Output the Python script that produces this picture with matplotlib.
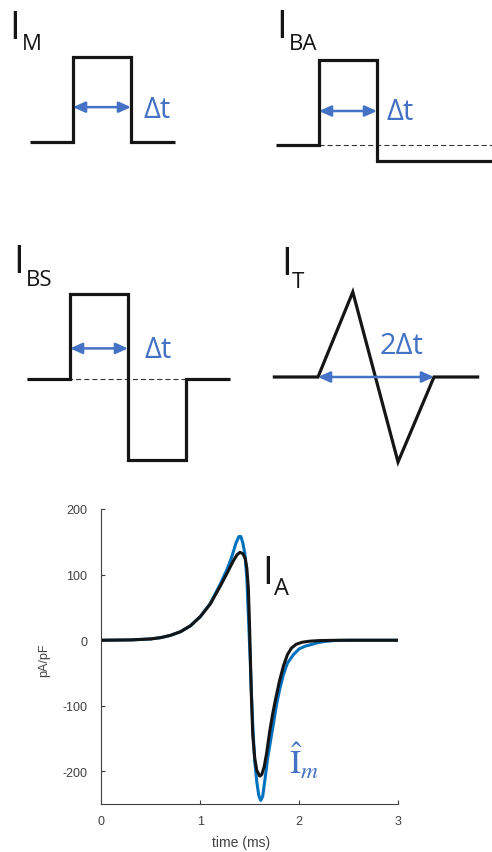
import matplotlib
matplotlib.use("Agg")
import matplotlib.pyplot as plt

plt.rcParams["axes.unicode_minus"] = False

# --------------------------------------------------------------------------- #
# Schematic waveforms (time in units of Δt, amplitude in units of the pulse)
# --------------------------------------------------------------------------- #
im_t = [-0.75, 0, 0, 1, 1, 1.75]
im_a = [0, 0, 1, 1, 0, 0]

iba_t = [-0.75, 0, 0, 1, 1, 3.2]
iba_a = [0, 0, 1, 1, -0.19, -0.19]

ibs_t = [-0.75, 0, 0, 1, 1, 2, 2, 2.75]
ibs_a = [0, 0, 1, 1, -0.95, -0.95, 0, 0]

it_t = [-0.78, 0, 0.6, 1.38, 2, 2.78]
it_a = [0, 0, 1, -1, 0, 0]

# --------------------------------------------------------------------------- #
# Bottom panel: fitted current I_A (black) vs measured Î_m (blue), pA/pF
# --------------------------------------------------------------------------- #
black_t = [0.0, 0.3, 0.5, 0.6, 0.7, 0.8, 0.9, 1.0, 1.1, 1.2, 1.27, 1.33, 1.37,
           1.40, 1.43, 1.455, 1.47, 1.485, 1.495, 1.505, 1.515, 1.53, 1.55,
           1.57, 1.60, 1.62, 1.645, 1.67, 1.70, 1.73, 1.76, 1.80, 1.84, 1.88,
           1.92, 1.97, 2.03, 2.1, 2.2, 2.4, 3.0]
black_v = [0, 0.5, 2, 4, 7.5, 13, 22, 36, 55, 82, 102, 120, 130,
           134, 132, 124, 110, 80, 35, -20, -80, -145, -180,
           -198, -207, -205, -193, -172, -140, -113, -90, -62, -39, -22,
           -12, -6, -3, -1.5, -0.5, 0, 0]

blue_t = [0.0, 0.3, 0.5, 0.6, 0.7, 0.8, 0.9, 1.0, 1.1, 1.2, 1.27, 1.32, 1.36,
          1.39, 1.41, 1.43, 1.45, 1.47, 1.485, 1.50, 1.515, 1.53, 1.55, 1.57,
          1.59, 1.61, 1.63, 1.655, 1.68, 1.72, 1.75, 1.77, 1.80, 1.84, 1.88,
          1.94, 2.0, 2.06, 2.11, 2.18, 2.25, 2.35, 2.5, 3.0]
blue_v = [0, 0.5, 2, 4, 7.5, 13, 22, 36, 56, 85, 108, 128, 148,
          158, 158, 148, 132, 95, 40, -15, -75, -130, -185, -215,
          -236, -244, -238, -210, -180, -144, -117, -98, -76, -52, -35,
          -22, -13, -9, -7, -4, -2, -0.5, 0, 0]

x_ticks = [0, 1, 2, 3]
y_ticks = [-200, -100, 0, 100, 200]

BLUE_TXT = "#4472C4"
BLUE_LINE = "#0072BD"
INK = "#151515"
GREY = "#404040"

W, H = 492, 853
SX, SY = 58, 85          # pixels per Δt / per unit amplitude in the schematics

fig = plt.figure(figsize=(W / 100, H / 100), dpi=100)


def px(x, y):
    return x / W, 1 - y / H


def panel_axes(ox, oy):
    left, width = ox - 1.0 * SX, 4.2 * SX
    top, height = oy - 1.3 * SY, 2.6 * SY
    ax = fig.add_axes([left / W, 1 - (top + height) / H, width / W, height / H])
    ax.set_xlim(-1, 3.2)
    ax.set_ylim(-1.3, 1.3)
    ax.axis("off")
    return ax


def wave(ax, t, a):
    ax.plot(t, a, color=INK, lw=2.3, solid_joinstyle="miter",
            solid_capstyle="butt", clip_on=False)


def baseline(ax, t0, t1):
    ax.plot([t0, t1], [0, 0], color="#333333", lw=0.8, dashes=(4.5, 2.8))


def span(ax, t0, t1, a, label, tx, ta):
    ax.annotate("", xy=(t1, a), xytext=(t0, a),
                arrowprops=dict(arrowstyle="<|-|>,head_length=0.6,head_width=0.27",
                                color=BLUE_TXT, lw=1.8, mutation_scale=12,
                                shrinkA=0, shrinkB=0))
    ax.text(tx, ta, label, color=BLUE_TXT, fontsize=21, family="Open Sans",
            ha="left", va="center")


def name(x, y, sub, xs, ys):
    fig.text(*px(x, y), "I", fontsize=28, family="Open Sans", color=INK,
             va="baseline", ha="left")
    fig.text(*px(xs, ys), sub, fontsize=16, family="Open Sans", color=INK,
             va="baseline", ha="left")


# I_M
ax = panel_axes(73, 143)
wave(ax, im_t, im_a)
span(ax, 0, 1, 0.41, "Δt", 1.22, 0.38)
name(9, 39, "M", 22, 50)

# I_BA
ax = panel_axes(319, 146)
baseline(ax, 0, 3.2)
wave(ax, iba_t, iba_a)
span(ax, 0, 1, 0.40, "Δt", 1.17, 0.39)
name(276, 38, "BA", 289, 50)

# I_BS
ax = panel_axes(70, 380)
baseline(ax, -0.75, 2)
wave(ax, ibs_t, ibs_a)
span(ax, 0, 1, 0.36, "Δt", 1.29, 0.35)
name(13, 273, "BS", 26, 286)

# I_T
ax = panel_axes(318, 378)
wave(ax, it_t, it_a)
span(ax, 0, 2, 0.0, "2Δt", 1.07, 0.37)
name(281, 275, "T", 292, 288)

# bottom trace panel
ax = fig.add_axes([101.3 / W, 1 - 805.3 / H, 297 / W, 295.3 / H])
ax.plot(blue_t, blue_v, color=BLUE_LINE, lw=2.2)
ax.plot(black_t, black_v, color=INK, lw=2.2)
ax.set_xlim(0, 3)
ax.set_ylim(-250, 200)
ax.set_xticks(x_ticks)
ax.set_yticks(y_ticks)
for s in ("top", "right"):
    ax.spines[s].set_visible(False)
for s in ("left", "bottom"):
    ax.spines[s].set_color(GREY)
    ax.spines[s].set_linewidth(0.8)
ax.tick_params(direction="in", length=3, width=0.8, colors=GREY, labelsize=9)
ax.tick_params(axis="y", pad=10)
ax.tick_params(axis="x", pad=8)
for lab in ax.get_xticklabels() + ax.get_yticklabels():
    lab.set_family("Liberation Sans")
ax.set_xlabel("time (ms)", fontsize=10, color=GREY, family="Liberation Sans")
ax.set_ylabel("pA/pF", fontsize=9, color=GREY, family="Liberation Sans")
ax.xaxis.set_label_coords(0.47, -0.105)
ax.yaxis.set_label_coords(-0.173, 0.49)

fig.text(*px(262, 584), "I", fontsize=28, family="Open Sans", color=INK,
         va="baseline", ha="left")
fig.text(*px(274, 595), "A", fontsize=17, family="Open Sans", color=INK,
         va="baseline", ha="left")
fig.text(*px(289, 775), r"$\hat{\mathrm{I}}_m$", fontsize=24, color=BLUE_TXT,
         math_fontfamily="stix", va="baseline", ha="left")

fig.savefig("out.png", dpi=100)
